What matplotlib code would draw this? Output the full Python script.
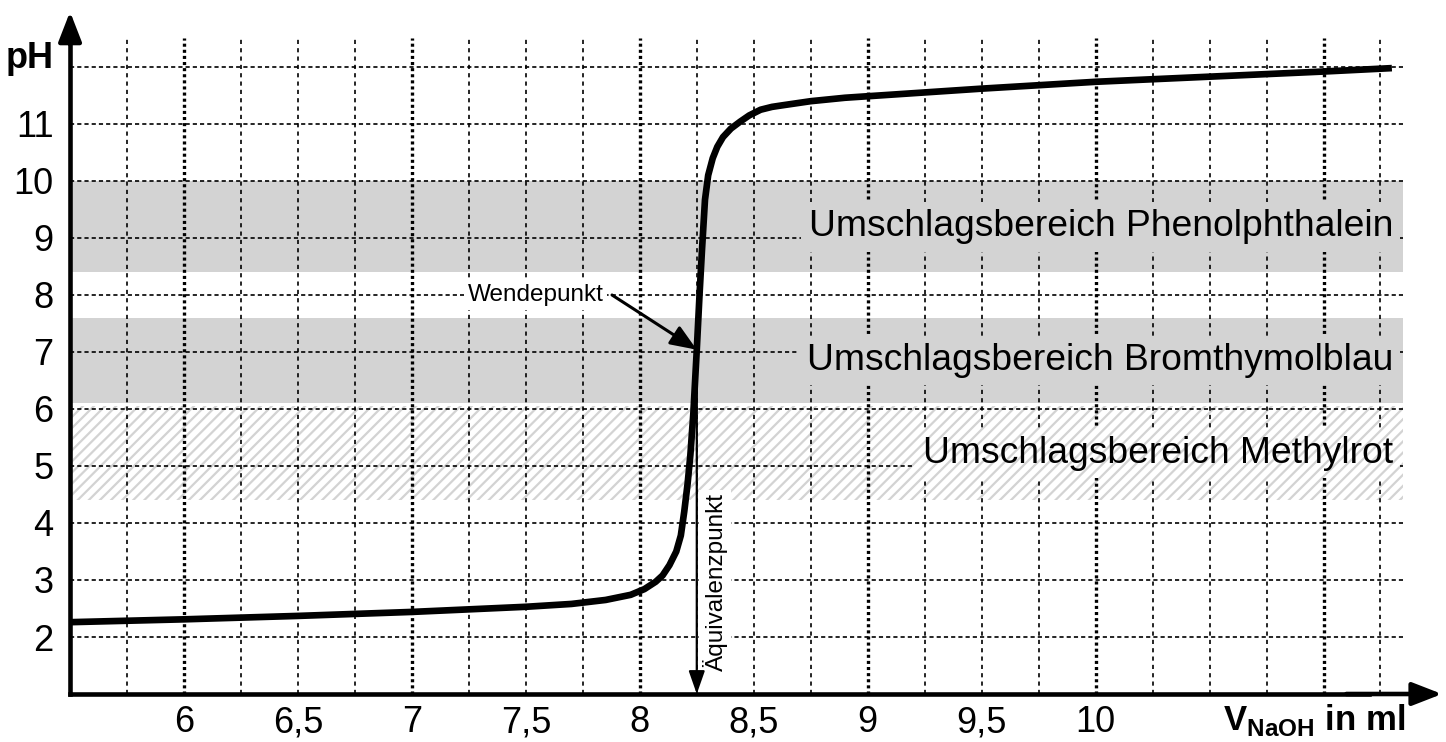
import matplotlib
matplotlib.use("Agg")
import matplotlib.pyplot as plt
import numpy as np

plt.rcParams['font.family'] = ['Liberation Sans', 'DejaVu Sans']
plt.rcParams['mathtext.fontset'] = 'custom'
plt.rcParams['mathtext.rm'] = 'Liberation Sans'
plt.rcParams['mathtext.bf'] = 'Liberation Sans:bold'
plt.rcParams['hatch.linewidth'] = 1.6
plt.rcParams['lines.scale_dashes'] = False

# ---------------- data ----------------
volume_ml = [5.5, 6.0, 6.5, 7.0, 7.5, 7.7, 7.85, 7.96, 8.02, 8.07, 8.1, 8.13,
             8.16, 8.18, 8.195, 8.21, 8.222, 8.235, 8.25, 8.262, 8.273, 8.286,
             8.3, 8.32, 8.34, 8.365, 8.4, 8.44, 8.48, 8.53, 8.58, 8.63, 8.75,
             8.9, 9.5, 10.0, 10.5, 11.0, 11.3]
ph_values = [2.26, 2.31, 2.37, 2.44, 2.53, 2.58, 2.65, 2.74, 2.84, 2.97, 3.08, 3.26,
             3.5, 3.78, 4.2, 4.7, 5.2, 5.93, 7.04, 8.0, 8.8, 9.67,
             10.1, 10.4, 10.6, 10.77, 10.92, 11.04, 11.15, 11.25, 11.3, 11.33, 11.4,
             11.46, 11.62, 11.74, 11.83, 11.92, 11.98]

x_ticks = [6, 6.5, 7, 7.5, 8, 8.5, 9, 9.5, 10]
x_tick_labels = ['6', '6,5', '7', '7,5', '8', '8,5', '9', '9,5', '10']
y_ticks = [2, 3, 4, 5, 6, 7, 8, 9, 10, 11]
y_tick_labels = ['2', '3', '4', '5', '6', '7', '8', '9', '10', '11']
y_grid = [2, 3, 4, 5, 6, 7, 8, 9, 10, 11, 12]

band_labels = ['Umschlagsbereich Phenolphthalein',
               'Umschlagsbereich Bromthymolblau',
               'Umschlagsbereich Methylrot']
band_low = [8.4, 6.1, 4.4]
band_high = [10.0, 7.6, 6.05]
band_hatched = [False, False, True]

equivalence_volume = 8.25
inflection_ph = 7.04

# ---------------- figure ----------------
GREY = '#d3d3d3'
fig = plt.figure(figsize=(14.46, 7.42), dpi=100)
ax = fig.add_axes([0, 0, 1, 1])
ax.set_xlim(5.1926, 11.5375)
ax.set_ylim(0.158, 13.175)

x0, y0 = 5.5, 1.0
x_grid_end = 11.35

# bands
for lo, hi, hatched in zip(band_low, band_high, band_hatched):
    if hatched:
        ax.fill_between([x0, x_grid_end], lo, hi, facecolor='white',
                        edgecolor=GREY, linewidth=0, hatch='///', zorder=1)
    else:
        ax.fill_between([x0, x_grid_end], lo, hi, facecolor=GREY,
                        edgecolor='none', linewidth=0, zorder=1)

# grid
vx = np.arange(5.75, 11.26, 0.25)
thin = [v for v in vx if abs(v - round(v)) > 1e-6]
thick = [v for v in vx if abs(v - round(v)) <= 1e-6]
ax.vlines(thin, y0, 12.5, colors='black', linewidth=1.2,
          linestyles=[(0, (3.0, 3.0))], zorder=2)
ax.vlines(thick, y0, 12.5, colors='black', linewidth=2.4,
          linestyles=[(0, (2.2, 2.2))], zorder=2)
ax.hlines(y_grid, x0, x_grid_end, colors='black', linewidth=1.2,
          linestyles=[(0, (3.0, 2.2))], zorder=2)

# band labels
for lab, lo, hi, hatched in zip(band_labels, band_low, band_high, band_hatched):
    if hatched:
        bb = dict(facecolor='white', edgecolor=GREY, linewidth=0, hatch='///',
                  boxstyle='square,pad=0.2')
    else:
        bb = dict(facecolor=GREY, edgecolor='none', boxstyle='square,pad=0.2')
    ax.text(11.305, (lo + hi) / 2, lab, ha='right', va='center',
            fontsize=26.8, bbox=bb, zorder=3)

# axes spines
for s in ['top', 'right']:
    ax.spines[s].set_visible(False)
ax.spines['left'].set_position(('data', x0))
ax.spines['bottom'].set_position(('data', y0))
ax.spines['left'].set_bounds(y0, 12.6)
ax.spines['bottom'].set_bounds(x0, 11.2)
ax.spines['left'].set_linewidth(3.3)
ax.spines['bottom'].set_linewidth(3.3)
ax.spines['left'].set_zorder(6)
ax.spines['bottom'].set_zorder(6)
ax.set_xticks(x_ticks)
ax.set_xticklabels(x_tick_labels)
ax.set_yticks(y_ticks)
ax.set_yticklabels(y_tick_labels)
ax.tick_params(axis='both', length=0, labelsize=26)
ax.tick_params(axis='x', pad=8)
ax.tick_params(axis='y', pad=12)

# axis arrows
ax.annotate('', xy=(x0, 12.97), xytext=(x0, 12.4),
            arrowprops=dict(arrowstyle='-|>,head_length=0.9,head_width=0.35',
                            mutation_scale=20, color='black', lw=3.3,
                            shrinkA=0, shrinkB=0), zorder=6)
ax.annotate('', xy=(11.52, y0), xytext=(11.1, y0),
            arrowprops=dict(arrowstyle='-|>,head_length=0.9,head_width=0.35',
                            mutation_scale=20, color='black', lw=3.3,
                            shrinkA=0, shrinkB=0), zorder=6)

# axis labels
ax.text(5.43, 12.15, 'pH', ha='right', va='center', fontsize=26,
        fontweight='bold')
ax.text(11.36, 0.36, r'$\mathbf{V}_{\mathbf{NaOH}}$ in ml', ha='right',
        va='baseline', fontsize=25, fontweight='bold')

# equivalence arrow
ax.annotate('', xy=(equivalence_volume, y0), xytext=(equivalence_volume, inflection_ph),
            arrowprops=dict(arrowstyle='-|>,head_length=1.0,head_width=0.35',
                            mutation_scale=14, color='black', lw=1.6,
                            shrinkA=0, shrinkB=0), zorder=4)
ax.text(8.33, 2.96, 'Äquivalenzpunkt', rotation=90, ha='center', va='center',
        fontsize=17.5, zorder=3,
        bbox=dict(facecolor='white', edgecolor='none', boxstyle='square,pad=0.15'))

# Wendepunkt
ax.text(7.84, 8.0, 'Wendepunkt', ha='right', va='center', fontsize=17.5, zorder=3,
        bbox=dict(facecolor='white', edgecolor='none', boxstyle='square,pad=0.15'))
ax.annotate('', xy=(equivalence_volume, inflection_ph), xytext=(7.878, 8.0),
            arrowprops=dict(arrowstyle='-|>,head_length=1.0,head_width=0.4',
                            mutation_scale=16, color='black', lw=2.2,
                            shrinkA=0, shrinkB=0), zorder=4)

# curve
ax.plot(volume_ml, ph_values, color='black', linewidth=4.8,
        solid_joinstyle='round', solid_capstyle='butt', zorder=5)

fig.savefig('out.png', dpi=100)
